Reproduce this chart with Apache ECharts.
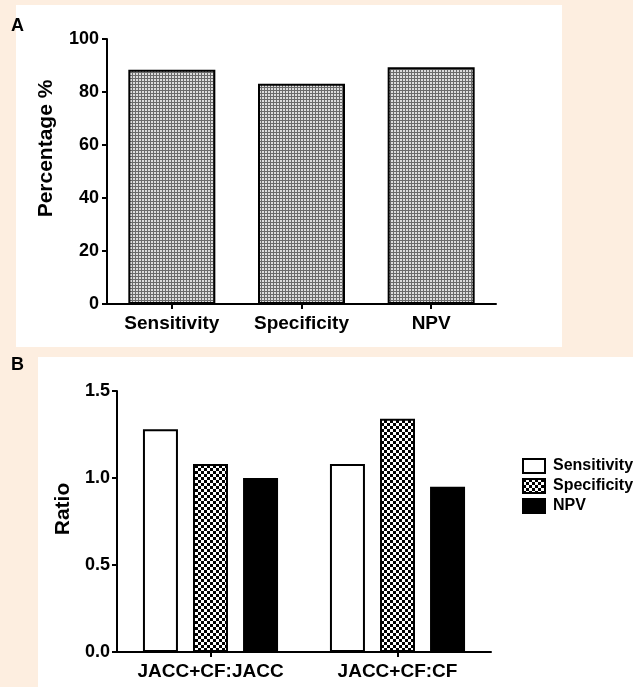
<!DOCTYPE html>
<html>
<head>
<meta charset="utf-8">
<script src="https://cdn.jsdelivr.net/npm/echarts@6/dist/echarts.min.js"></script>
<style>
  html, body { margin: 0; padding: 0; background: #fdeee0; }
  #chart { width: 633px; height: 687px; }
</style>
</head>
<body>
<div id="chart"></div>
<script>
// panel A
var metricsA = ['Sensitivity', 'Specificity', 'NPV'];
var percentA = [88.4, 83.1, 89.3];

// panel B
var groupsB = ['JACC+CF:JACC', 'JACC+CF:CF'];
var sensB = [1.28, 1.08];
var specB = [1.08, 1.34];
var npvB = [1.00, 0.95];

// fine grey grid fill for panel A
function gridPattern() {
    var c = document.createElement('canvas');
    c.width = 3; c.height = 3;
    var ctx = c.getContext('2d');
    ctx.fillStyle = '#dcdcdc';
    ctx.fillRect(0, 0, 3, 3);
    ctx.fillStyle = '#6a6a6a';
    ctx.fillRect(0, 0, 3, 1);
    ctx.fillRect(0, 0, 1, 3);
    return c;
}

// checkerboard fill for Specificity in panel B
function checkerPattern() {
    var c = document.createElement('canvas');
    c.width = 6; c.height = 6;
    var ctx = c.getContext('2d');
    ctx.fillStyle = '#ffffff';
    ctx.fillRect(0, 0, 6, 6);
    ctx.fillStyle = '#000000';
    ctx.fillRect(0, 0, 3, 3);
    ctx.fillRect(3, 3, 3, 3);
    return c;
}

var font = 'Liberation Sans, Arial, sans-serif';
var axisLine = { lineStyle: { color: '#000', width: 2 } };
var axisTick = { show: true, length: 5, lineStyle: { color: '#000', width: 2 } };

var mchart = echarts.init(document.getElementById('chart'));

var option = {
    backgroundColor: '#fdeee0',
    animation: false,
    textStyle: { fontFamily: font },
    graphic: [
        { type: 'rect', z: -10, shape: { x: 16, y: 5, width: 546, height: 342 }, style: { fill: '#fff' } },
        { type: 'rect', z: -10, shape: { x: 38, y: 357, width: 595, height: 330 }, style: { fill: '#fff' } },
        { type: 'text', left: 11, top: 17, style: { text: 'A', font: 'bold 18px ' + font, fill: '#000' } },
        { type: 'text', left: 11, top: 356, style: { text: 'B', font: 'bold 18px ' + font, fill: '#000' } }
    ],
    legend: {
        orient: 'vertical',
        left: 517,
        top: 453,
        icon: 'rect',
        itemWidth: 22,
        itemHeight: 14,
        itemGap: 4,
        data: ['Sensitivity', 'Specificity', 'NPV'],
        textStyle: { fontSize: 16, fontWeight: 'bold', color: '#000', fontFamily: font, padding: [0, 0, 0, 3] }
    },
    grid: [
        { left: 107, top: 39, width: 389, height: 265 },
        { left: 117, top: 391, width: 374, height: 261 }
    ],
    xAxis: [
        {
            gridIndex: 0, type: 'category', data: metricsA,
            axisLine: axisLine,
            axisTick: Object.assign({ alignWithLabel: true }, axisTick),
            axisLabel: { interval: 0, color: '#000', fontSize: 19, fontWeight: 'bold', margin: 10 }
        },
        {
            gridIndex: 1, type: 'category', data: groupsB,
            axisLine: axisLine,
            axisTick: Object.assign({ alignWithLabel: true }, axisTick),
            axisLabel: { interval: 0, hideOverlap: false, color: '#000', fontSize: 19, fontWeight: 'bold', margin: 10 }
        }
    ],
    yAxis: [
        {
            gridIndex: 0, type: 'value', min: 0, max: 100, interval: 20,
            name: 'Percentage %', nameLocation: 'middle', nameGap: 50,
            nameTextStyle: { fontSize: 21, fontWeight: 'bold', color: '#000', padding: [0, 0, 0, 46] },
            axisLine: Object.assign({ show: true }, axisLine),
            axisTick: axisTick,
            splitLine: { show: false },
            axisLabel: { color: '#000', fontSize: 18, fontWeight: 'bold', margin: 8 }
        },
        {
            gridIndex: 1, type: 'value', min: 0, max: 1.5, interval: 0.5,
            name: 'Ratio', nameLocation: 'middle', nameGap: 40,
            nameTextStyle: { fontSize: 21, fontWeight: 'bold', color: '#000', padding: [0, 0, 0, 25] },
            axisLine: Object.assign({ show: true }, axisLine),
            axisTick: axisTick,
            splitLine: { show: false },
            axisLabel: {
                color: '#000', fontSize: 18, fontWeight: 'bold', margin: 7,
                formatter: function (v) { return v.toFixed(1); }
            }
        }
    ],
    series: [
        {
            name: 'Percentage', type: 'bar', xAxisIndex: 0, yAxisIndex: 0,
            data: percentA, barWidth: 87,
            itemStyle: { color: { image: gridPattern(), repeat: 'repeat' }, borderColor: '#000', borderWidth: 2 }
        },
        {
            name: 'Sensitivity', type: 'bar', xAxisIndex: 1, yAxisIndex: 1,
            data: sensB, barWidth: 35, barGap: '43%',
            itemStyle: { color: '#fff', borderColor: '#000', borderWidth: 2 }
        },
        {
            name: 'Specificity', type: 'bar', xAxisIndex: 1, yAxisIndex: 1,
            data: specB, barWidth: 35, barGap: '43%',
            itemStyle: { color: { image: checkerPattern(), repeat: 'repeat' }, borderColor: '#000', borderWidth: 2 }
        },
        {
            name: 'NPV', type: 'bar', xAxisIndex: 1, yAxisIndex: 1,
            data: npvB, barWidth: 35, barGap: '43%',
            itemStyle: { color: '#000', borderColor: '#000', borderWidth: 2 }
        }
    ]
};

mchart.setOption(option, true);
</script>
</body>
</html>
